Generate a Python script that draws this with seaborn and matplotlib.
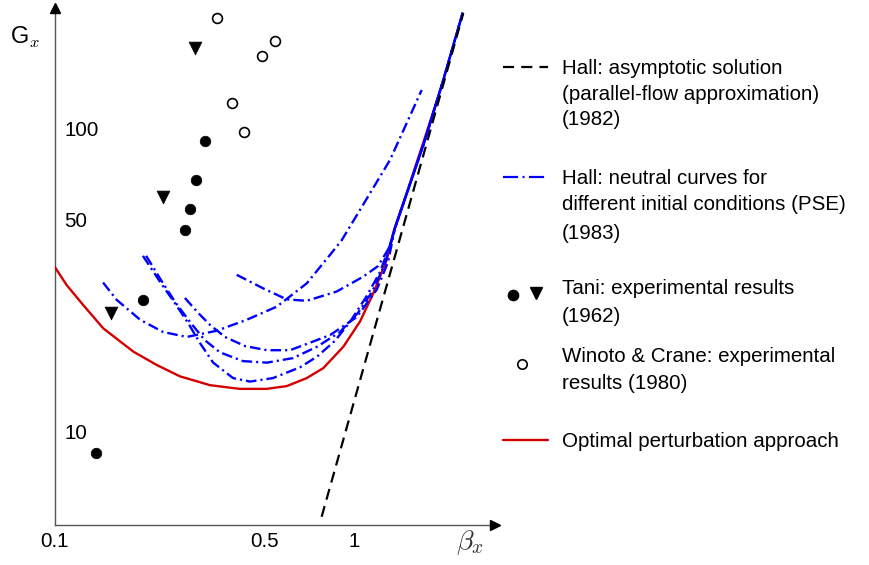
import matplotlib
matplotlib.use("Agg")
import matplotlib.pyplot as plt
import matplotlib.transforms as mtransforms
import pandas as pd
import seaborn as sns

# ---------------- data ----------------
hall_asym_beta = [0.778, 2.311]
hall_asym_G = [5.28, 245.3]

# common upper branch of the PSE neutral curves
pse_tail_beta = [1.367, 1.511, 1.722, 1.982, 2.301]
pse_tail_G = [47.7, 63.8, 93.4, 147.5, 246.5]

pse_a_beta = [0.145, 0.161, 0.193, 0.230, 0.276, 0.347, 0.437, 0.551, 0.694, 0.830, 0.908, 1.045, 1.316, 1.679]
pse_a_G = [31.5, 27.6, 23.7, 21.6, 20.8, 21.8, 23.7, 26.2, 31.3, 38.9, 43.5, 54.8, 80.2, 136.7]

pse_b_beta = [0.405, 0.497, 0.595, 0.694, 0.873, 1.069, 1.200, 1.306]
pse_b_G = [33.4, 30.1, 27.7, 27.4, 29.4, 32.9, 35.7, 41.0]

pse_c_beta = [0.197, 0.225, 0.252, 0.279, 0.305, 0.338, 0.394, 0.449, 0.535, 0.659, 0.751, 0.862, 0.967, 1.100, 1.218, 1.316]
pse_c_G = [38.6, 31.6, 26.9, 23.1, 19.9, 17.1, 15.2, 14.8, 15.2, 16.5, 17.9, 20.2, 23.3, 28.4, 34.1, 41.9]

pse_d_beta = [0.202, 0.225, 0.252, 0.283, 0.317, 0.356, 0.425, 0.511, 0.624, 0.751, 0.896, 1.029, 1.146, 1.256, 1.326]
pse_d_G = [38.6, 32.4, 27.2, 23.3, 20.3, 18.5, 17.3, 17.1, 17.7, 19.3, 21.6, 25.0, 29.3, 35.7, 42.6]

pse_e_beta = [0.272, 0.301, 0.330, 0.370, 0.432, 0.511, 0.610, 0.711, 0.830, 1.019, 1.188, 1.296]
pse_e_G = [28.0, 25.0, 22.8, 20.8, 19.4, 18.8, 18.8, 19.9, 21.1, 24.2, 29.8, 36.8]

optimal_beta = [0.100, 0.1096, 0.1246, 0.1453, 0.183, 0.219, 0.262, 0.330, 0.415, 0.510,
                0.595, 0.694, 0.788, 0.919, 1.045, 1.157, 1.283, 1.357, 1.508, 1.907]
optimal_G = [35.5, 30.9, 26.5, 22.2, 18.6, 16.8, 15.4, 14.4, 14.0, 14.0,
             14.3, 15.2, 16.4, 19.3, 23.4, 29.0, 37.4, 47.0, 63.8, 129.9]

tani_circle_beta = [0.137, 0.1975, 0.272, 0.283, 0.2955, 0.3175]
tani_circle_G = [8.61, 27.6, 47.0, 55.3, 68.8, 92.4]
tani_tri_beta = [0.1538, 0.2304, 0.294]
tani_tri_G = [24.9, 60.6, 187.9]
winoto_beta = [0.348, 0.390, 0.427, 0.492, 0.542]
winoto_G = [236.0, 124.0, 99.2, 177.6, 198.0]

x_ticks = [0.1, 0.5, 1]
x_tick_labels = ["0.1", "0.5", "1"]
y_ticks = [10, 50, 100]
y_tick_labels = ["10", "50", "100"]

legend_lines = [
    ("Hall: asymptotic solution", 0), ("(parallel-flow approximation)", 0), ("(1982)", 0),
    ("Hall: neutral curves for", 1), ("different initial conditions (PSE)", 1), ("(1983)", 1),
    ("Tani: experimental results", 2), ("(1962)", 2),
    ("Winoto & Crane: experimental", 3), ("results (1980)", 3),
    ("Optimal perturbation approach", 4),
]

# ---------------- build tables ----------------
pse_parts = {
    "a": (pse_a_beta, pse_a_G),
    "b": (pse_b_beta + pse_tail_beta, pse_b_G + pse_tail_G),
    "c": (pse_c_beta + pse_tail_beta, pse_c_G + pse_tail_G),
    "d": (pse_d_beta + pse_tail_beta, pse_d_G + pse_tail_G),
    "e": (pse_e_beta + pse_tail_beta, pse_e_G + pse_tail_G),
}
rows = []
for name, (bx, gx) in pse_parts.items():
    for i, (b, g) in enumerate(zip(bx, gx)):
        rows.append({"curve": name, "order": i, "beta": b, "G": g})
pse_df = pd.DataFrame(rows)

opt_df = pd.DataFrame({"beta": optimal_beta, "G": optimal_G})
asym_df = pd.DataFrame({"beta": hall_asym_beta, "G": hall_asym_G})

# ---------------- style ----------------
sns.set_style("white")
plt.rcParams["font.family"] = ["Liberation Sans", "DejaVu Sans"]
plt.rcParams["mathtext.fontset"] = "cm"
plt.rcParams["text.color"] = "black"
plt.rcParams["xtick.labelcolor"] = "black"
plt.rcParams["ytick.labelcolor"] = "black"
FS = 14.8
W, H = 870, 565
fig = plt.figure(figsize=(W / 100, H / 100), dpi=100)

left_px, right_px, top_px, bottom_px = 54.7, 495.0, 8.0, 525.0
ax = fig.add_axes([left_px / W, 1 - bottom_px / H, (right_px - left_px) / W, (bottom_px - top_px) / H])
ax.patch.set_alpha(0)

BLUE = "#0000FF"
RED = "#D40000"

sns.lineplot(data=opt_df, x="beta", y="G", sort=False, estimator=None, ax=ax,
             color=RED, linewidth=1.7, zorder=3)
sns.lineplot(data=pse_df, x="beta", y="G", units="curve", sort=False, estimator=None, ax=ax,
             color=BLUE, linewidth=1.7, linestyle=(0, (4.5, 1.7, 0.9, 1.7)), zorder=4)
sns.lineplot(data=asym_df, x="beta", y="G", sort=False, estimator=None, ax=ax,
             color="black", linewidth=1.6, linestyle=(0, (5, 3)), zorder=5)

sns.scatterplot(x=tani_circle_beta, y=tani_circle_G, ax=ax, marker="o", s=58,
                color="black", edgecolor="black", linewidth=0.5, zorder=6)
sns.scatterplot(x=tani_tri_beta, y=tani_tri_G, ax=ax, marker="v", s=85,
                color="black", edgecolor="black", linewidth=0.5, zorder=6)
sns.scatterplot(x=winoto_beta, y=winoto_G, ax=ax, marker="o", s=50,
                color="white", edgecolor="black", linewidth=1.2, zorder=6)

ax.set_xscale("log")
ax.set_yscale("log")
ax.set_xlim(0.1, 2.949)
ax.set_ylim(4.959, 255.4)
ax.set_xlabel("")
ax.set_ylabel("")

for s in ["top", "right"]:
    ax.spines[s].set_visible(False)
for s in ["left", "bottom"]:
    ax.spines[s].set_color("#555555")
    ax.spines[s].set_linewidth(1.0)

ax.minorticks_off()
ax.set_xticks(x_ticks)
ax.set_xticklabels(x_tick_labels, fontsize=FS)
ax.set_yticks(y_ticks)
ax.set_yticklabels([])
ax.tick_params(axis="x", direction="in", length=3, width=1, color="#555555", pad=5, labelcolor="black")
ax.tick_params(axis="y", direction="in", length=5, width=1, color="#555555", pad=0)
ax.minorticks_off()

ytrans = mtransforms.blended_transform_factory(ax.transAxes, ax.transData)
for v, lab in zip(y_ticks, y_tick_labels):
    ax.text(0.022, v, lab, transform=ytrans, ha="left", va="center", fontsize=FS, color="black")

# arrow heads
ax.plot([1], [0], marker=">", ms=6.5, color="black", transform=ax.transAxes, clip_on=False, zorder=10)
ax.plot([0], [1], marker="^", ms=6.5, color="black", transform=ax.transAxes, clip_on=False, zorder=10)

fig.text(25 / W, 1 - 37 / H, "G$_x$", fontsize=17, ha="center", va="center", color="black")
fig.text(470 / W, 1 - 543 / H, r"$\beta_x$", fontsize=20, ha="center", va="center", color="#333333")

# ---------------- legend (manual layout) ----------------
lax = fig.add_axes([0, 0, 1, 1])
lax.set_xlim(0, W)
lax.set_ylim(H, 0)
lax.axis("off")

baselines = [73.7, 99.7, 125.3, 183.7, 210.3, 238.7, 293.7, 322.0, 362.0, 388.7, 447.0]
for (txt, _), yb in zip(legend_lines, baselines):
    lax.text(561.7, yb, txt, fontsize=FS, ha="left", va="baseline", color="black")

lax.plot([503, 548], [66.7, 66.7], color="black", lw=1.6, linestyle=(0, (5.0, 3.2)))
lax.plot([503, 548], [176.7, 176.7], color=BLUE, lw=1.6, linestyle=(0, (6.8, 2.0, 0.9, 2.0)))
lax.plot([513.3], [295], marker="o", ms=7.4, color="black", linestyle="none")
lax.plot([535.7], [293.3], marker="v", ms=8.8, color="black", linestyle="none")
lax.plot([522.3], [364], marker="o", ms=6.8, markerfacecolor="white", markeredgecolor="black",
         markeredgewidth=1.2, linestyle="none")
lax.plot([503, 548], [440, 440], color=RED, lw=1.7)

fig.savefig("out.png", dpi=100)
